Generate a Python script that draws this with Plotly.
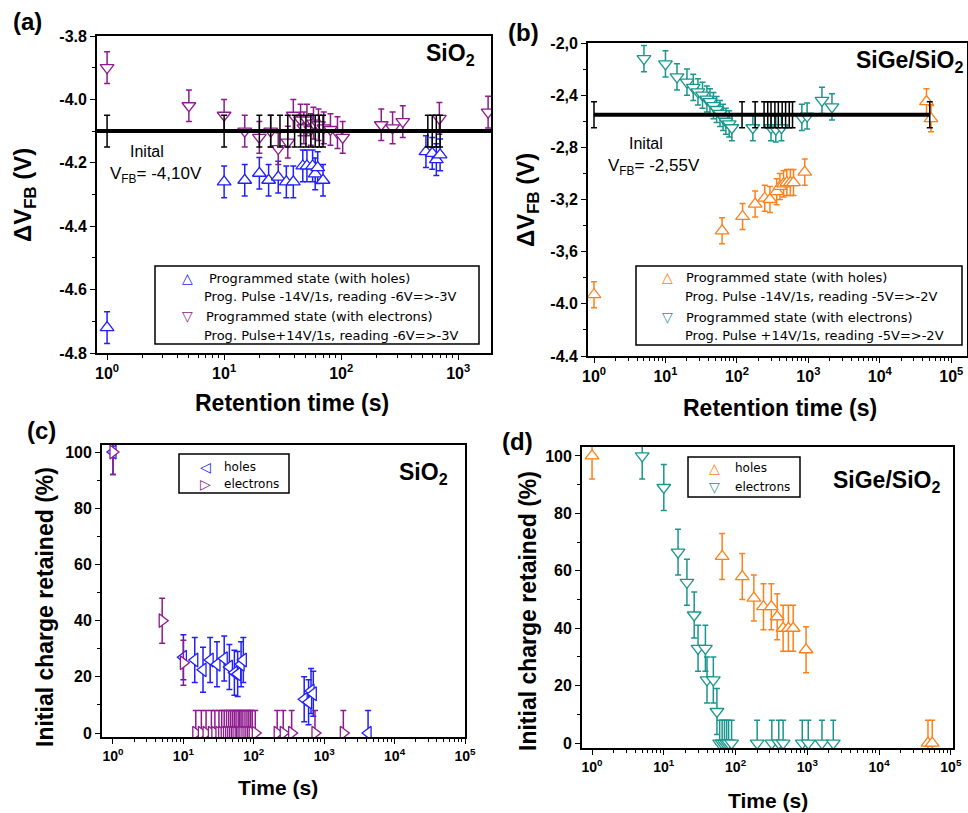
import plotly.graph_objects as go

W, H = 968, 813

# ---------------- data ----------------
# (a) SiO2 : flat-band voltage vs retention time
a_elec_t = [1, 5, 10, 15, 20, 25, 29, 35, 39, 45, 48, 51, 55, 58, 64, 71, 81, 93, 103, 220, 275, 336, 690, 1800]
a_elec_v = [-3.90, -4.02, -4.05, -4.10, -4.12, -4.10, -4.155, -4.135, -4.05, -4.065, -4.09, -4.065, -4.095,
            -4.075, -4.08, -4.09, -4.095, -4.105, -4.12, -4.08, -4.09, -4.07, -4.06, -4.04]
a_hole_t = [1, 10, 15, 20, 24, 29, 34, 39, 47, 51, 57, 60, 63, 70, 530, 600, 650, 700]
a_hole_v = [-4.72, -4.26, -4.255, -4.233, -4.255, -4.245, -4.26, -4.26, -4.21, -4.21, -4.21, -4.235, -4.215,
            -4.255, -4.165, -4.17, -4.19, -4.175]
a_init_v = -4.10
a_init_t = [1, 10, 20, 25, 30, 35, 40, 45, 50, 55, 60, 65, 70, 550, 600, 650, 700]
a_init_line_t = [0.8, 2000]
a_err = 0.05

# (b) SiGe/SiO2 : flat-band voltage vs retention time
b_elec_t = [5, 10, 14.5, 20, 24.5, 28.5, 33, 38, 42, 47, 52, 58, 64, 70, 78, 85, 167, 300, 350, 420, 810, 960, 1550, 2140]
b_elec_v = [-2.12, -2.16, -2.26, -2.30, -2.34, -2.375, -2.40, -2.43, -2.45, -2.48, -2.51, -2.54, -2.57, -2.60,
            -2.62, -2.65, -2.65, -2.65, -2.66, -2.65, -2.57, -2.56, -2.44, -2.49]
b_hole_t = [1, 62, 120, 180, 245, 290, 360, 400, 450, 500, 560, 620, 890, 45000, 52000]
b_hole_v = [-3.93, -3.44, -3.33, -3.235, -3.19, -3.20, -3.14, -3.10, -3.08, -3.07, -3.07, -3.07, -2.99, -2.45, -2.58]
b_init_v = -2.55
b_init_t = [1, 118, 180, 240, 270, 300, 340, 380, 430, 480, 540, 600, 50000]
b_init_line_t = [1, 50000]
b_err = 0.1

# (c) SiO2 : initial charge retained (%)
c_hole_t = [1, 10, 14.5, 19, 24, 30, 38, 45, 53, 59, 66, 71, 520, 600, 650, 700, 4200]
c_hole_p = [100, 27, 26, 22.5, 26, 24.5, 26.5, 23.5, 21.5, 21, 24.5, 26, 12, 11, 15, 14, 0]
c_elec_t = [1, 5, 10, 15, 18, 21, 25, 28, 32, 35, 38, 41, 44, 47, 50, 53, 56, 60, 63, 66, 70, 75, 80, 85,
            90, 95, 105, 215, 262, 345, 740, 1870]
c_elec_p = [100, 40, 25] + [0] * 29
c_err = 8

# (d) SiGe/SiO2 : initial charge retained (%)
d_hole_t = [1, 65, 124, 180, 245, 315, 380, 460, 545, 635, 960, 48000, 55000]
d_hole_p = [100, 65, 58, 50.5, 47.5, 47.5, 44, 40, 40, 40, 32.5, 0, 0]
d_elec_t = [5, 10, 15.8, 21, 26.5, 30, 38, 40, 49, 55, 60, 65, 70, 75, 80, 88, 200, 320, 400, 460, 850, 1030, 1600, 2300]
d_elec_p = [100, 89, 66.5, 56, 44.6, 33, 33, 22, 22, 11] + [0] * 14
d_err = 8

# tick labels
decade_vals = [1, 10, 100, 1000, 10000, 100000]
decade_text = ["10<sup>0</sup>", "10<sup>1</sup>", "10<sup>2</sup>", "10<sup>3</sup>", "10<sup>4</sup>", "10<sup>5</sup>"]
a_ytick_vals = [-3.8, -4.0, -4.2, -4.4, -4.6, -4.8]
a_ytick_text = ["-3.8", "-4.0", "-4.2", "-4.4", "-4.6", "-4.8"]
b_ytick_vals = [-2.0, -2.4, -2.8, -3.2, -3.6, -4.0, -4.4]
b_ytick_text = ["-2,0", "-2,4", "-2,8", "-3,2", "-3,6", "-4.0", "-4.4"]
cd_ytick_vals = [0, 20, 40, 60, 80, 100]
cd_ytick_text = ["0", "20", "40", "60", "80", "100"]

# ---------------- style ----------------
FONT = "Arial, 'Liberation Sans', sans-serif"
LFONT = "'DejaVu Sans', Arial, sans-serif"
BLUE = "#2020ff"
PURPLE = "#8e1b8e"
ORANGE = "#ff8018"
TEAL = "#1b968c"

fig = go.Figure()


def px(x):
    return x / W


def py(y):
    return 1 - y / H


def add_series(t, v, err, color, symbol, xa, ya):
    fig.add_trace(go.Scatter(
        x=t, y=v, mode="markers", xaxis=xa, yaxis=ya, showlegend=False,
        marker=dict(symbol=symbol, size=12, color="white", line=dict(color=color, width=1.3)),
        error_y=dict(type="constant", value=err, color=color, thickness=1.5, width=3),
    ))


def add_initial(t_bars, v, err, t_line, xa, ya):
    fig.add_trace(go.Scatter(
        x=t_bars, y=[v] * len(t_bars), mode="markers", xaxis=xa, yaxis=ya, showlegend=False,
        marker=dict(size=1, color="black"),
        error_y=dict(type="constant", value=err, color="black", thickness=1.5, width=3),
    ))
    fig.add_trace(go.Scatter(
        x=t_line, y=[v] * len(t_line), mode="lines", xaxis=xa, yaxis=ya, showlegend=False,
        line=dict(color="black", width=4),
    ))


# (a)
add_series(a_hole_t, a_hole_v, a_err, BLUE, "triangle-up", "x", "y")
add_series(a_elec_t, a_elec_v, a_err, PURPLE, "triangle-down", "x", "y")
add_initial(a_init_t, a_init_v, a_err, a_init_line_t, "x", "y")
# (b)
add_series(b_hole_t, b_hole_v, b_err, ORANGE, "triangle-up", "x2", "y2")
add_series(b_elec_t, b_elec_v, b_err, TEAL, "triangle-down", "x2", "y2")
add_initial(b_init_t, b_init_v, b_err, b_init_line_t, "x2", "y2")
# (c)
add_series(c_hole_t, c_hole_p, c_err, BLUE, "triangle-left", "x3", "y3")
add_series(c_elec_t, c_elec_p, c_err, PURPLE, "triangle-right", "x3", "y3")
# (d)
add_series(d_hole_t, d_hole_p, d_err, ORANGE, "triangle-up", "x4", "y4")
add_series(d_elec_t, d_elec_p, d_err, TEAL, "triangle-down", "x4", "y4")

minor_log = [k * 10 ** e for e in range(0, 6) for k in range(2, 10)]


def xaxis(domain, rng, anchor, nlab, size):
    return dict(
        type="log", domain=domain, range=rng, anchor=anchor, automargin=False,
        showline=True, linecolor="black", linewidth=1.8, mirror=True,
        showgrid=False, zeroline=False,
        ticks="outside", ticklen=5, tickwidth=1.3, tickcolor="black",
        tickmode="array", tickvals=decade_vals[:nlab], ticktext=decade_text[:nlab],
        tickfont=dict(family=FONT, size=size, color="black", weight="bold"),
        minor=dict(tickmode="array", tickvals=minor_log, ticks="outside", ticklen=3, tickwidth=1, tickcolor="black"),
    )


def yaxis(domain, rng, anchor, vals, text, minor_vals, size):
    return dict(
        domain=domain, range=rng, anchor=anchor, automargin=False,
        showline=True, linecolor="black", linewidth=1.8, mirror=True,
        showgrid=False, zeroline=False,
        ticks="outside", ticklen=5, tickwidth=1.3, tickcolor="black",
        tickmode="array", tickvals=vals, ticktext=text,
        tickfont=dict(family=FONT, size=size, color="black", weight="bold"),
        minor=dict(tickmode="array", tickvals=minor_vals, ticks="outside", ticklen=3, tickwidth=1, tickcolor="black"),
    )


fig.update_layout(
    width=W, height=H, margin=dict(l=0, r=0, t=0, b=0, autoexpand=False),
    paper_bgcolor="white", plot_bgcolor="white",
    xaxis=xaxis([px(97), px(491)], [-0.086, 3.28], "y", 4, 16),
    yaxis=yaxis([py(353), py(36)], [-4.8, -3.8], "x", a_ytick_vals, a_ytick_text,
                [-3.9, -4.1, -4.3, -4.5, -4.7], 16),
    xaxis2=xaxis([px(588), px(967)], [-0.084, 5.22], "y2", 6, 16),
    yaxis2=yaxis([py(356), py(43)], [-4.4, -2.0], "x2", b_ytick_vals, b_ytick_text,
                 [-2.2, -2.6, -3.0, -3.4, -3.8, -4.2], 16),
    xaxis3=xaxis([px(102), px(465)], [-0.156, 5.0], "y3", 6, 14),
    yaxis3=yaxis([py(737), py(445)], [-1.4, 102.5], "x3", cd_ytick_vals, cd_ytick_text,
                 [10, 30, 50, 70, 90], 16),
    xaxis4=xaxis([px(582), px(953)], [-0.14, 5.03], "y4", 6, 14),
    yaxis4=yaxis([py(748), py(447)], [-1.7, 103.1], "x4", cd_ytick_vals, cd_ytick_text,
                 [10, 30, 50, 70, 90], 16),
)

ann = []


def text(x, y, s, size, bold=False, color="black", xanchor="center", yanchor="middle", angle=0, family=FONT):
    ann.append(dict(
        x=px(x), y=py(y), xref="paper", yref="paper", text=s, showarrow=False,
        xanchor=xanchor, yanchor=yanchor, textangle=angle,
        font=dict(family=family, size=size, color=color, weight="bold" if bold else "normal"),
    ))


# panel labels
text(27, 22, "(a)", 24, True)
text(523, 32, "(b)", 24, True)
text(41, 430, "(c)", 24, True)
text(517, 442, "(d)", 24, True)
# material labels
text(477, 55, "SiO<sub>2</sub>", 23, True, xanchor="right")
text(965, 62, "SiGe/SiO<sub>2</sub>", 23, True, xanchor="right")
text(450, 473, "SiO<sub>2</sub>", 23, True, xanchor="right")
text(942, 481, "SiGe/SiO<sub>2</sub>", 23, True, xanchor="right")
# initial VFB notes
text(128, 151, "Inital", 16, xanchor="left")
text(108, 175, "V<sub>FB</sub>= -4,10V", 17, xanchor="left")
text(627, 143, "Inital", 16, xanchor="left")
text(606, 167, "V<sub>FB</sub>= -2,55V", 17, xanchor="left")
# axis titles
text(292, 403, "Retention time (s)", 23, True)
text(25, 195, "ΔV<sub>FB</sub> (V)", 24, True, angle=-90)
text(780, 408, "Retention time (s)", 23, True)
text(527, 200, "ΔV<sub>FB</sub> (V)", 24, True, angle=-90)
text(278, 787, "Time (s)", 21, True)
text(45, 607, "Initial charge retained (%)", 23, True, angle=-90)
text(768, 800, "Time (s)", 21, True)
text(528, 611, "Initial charge retained (%)", 23, True, angle=-90)

# legend (a)
text(187, 278, "△", 14, color=BLUE, family=LFONT)
text(207, 278, "Programmed state (with holes)", 13, xanchor="left", family=LFONT)
text(202, 297, "Prog. Pulse -14V/1s, reading -6V=>-3V", 13, xanchor="left", family=LFONT)
text(187, 316, "▽", 14, color=PURPLE, family=LFONT)
text(204, 316, "Programmed state (with electrons)", 13, xanchor="left", family=LFONT)
text(202, 335, "Prog. Pulse+14V/1s, reading -6V=>-3V", 13, xanchor="left", family=LFONT)
# legend (b)
text(667, 277, "△", 14, color=ORANGE, family=LFONT)
text(684, 277, "Programmed state (with holes)", 13, xanchor="left", family=LFONT)
text(683, 297, "Prog. Pulse -14V/1s, reading -5V=>-2V", 13, xanchor="left", family=LFONT)
text(667, 317, "▽", 14, color=TEAL, family=LFONT)
text(684, 317, "Programmed state (with electrons)", 13, xanchor="left", family=LFONT)
text(683, 335, "Prog. Pulse +14V/1s, reading -5V=>-2V", 13, xanchor="left", family=LFONT)
# legend (c)
text(205, 467, "◁", 14, color=BLUE, family=LFONT)
text(222, 467, "holes", 12, xanchor="left", family=LFONT)
text(205, 484, "▷", 14, color=PURPLE, family=LFONT)
text(222, 484, "electrons", 12, xanchor="left", family=LFONT)
# legend (d)
text(714, 468, "△", 14, color=ORANGE, family=LFONT)
text(733, 468, "holes", 12, xanchor="left", family=LFONT)
text(714, 487, "▽", 14, color=TEAL, family=LFONT)
text(733, 487, "electrons", 12, xanchor="left", family=LFONT)

shapes = []
for (x0, y0, x1, y1) in [(155, 266, 479, 344), (636, 266, 962, 345), (179, 454, 289, 493), (688, 457, 800, 497)]:
    shapes.append(dict(type="rect", xref="paper", yref="paper", x0=px(x0), x1=px(x1), y0=py(y1), y1=py(y0),
                       line=dict(color="black", width=1.5), fillcolor="rgba(0,0,0,0)"))

fig.update_layout(annotations=ann, shapes=shapes)

fig.write_html(
    "out.html",
    config={"displayModeBar": False},
    post_script="document.body.style.margin='0px';document.body.style.overflow='hidden';",
)
